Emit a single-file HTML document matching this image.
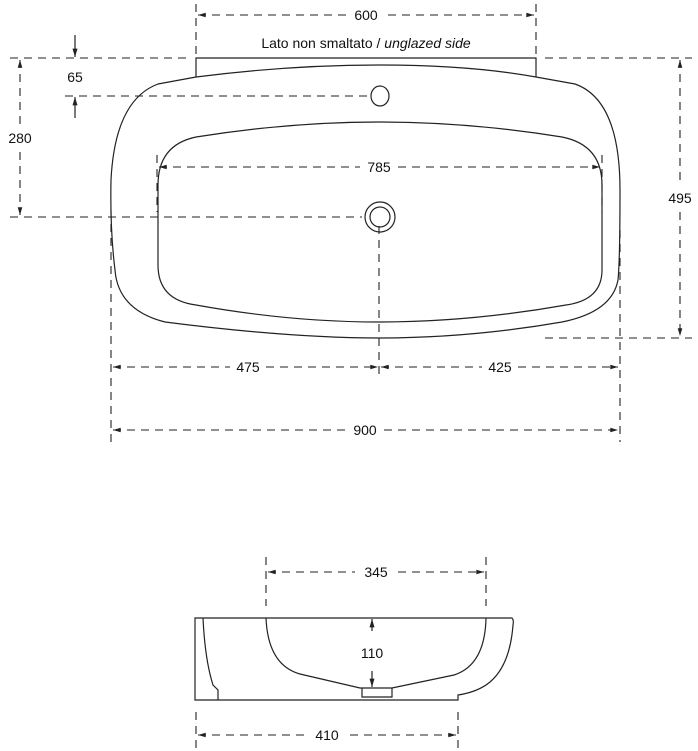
<!DOCTYPE html>
<html><head><meta charset="utf-8"><style>
html,body{margin:0;padding:0;background:#fff;}
svg{display:block;}
text{font-family:"Liberation Sans",Arial,sans-serif;font-size:14px;fill:#111;text-anchor:middle;}
.d{stroke:#222;stroke-width:1.1;stroke-dasharray:8,6;fill:none;}
.s{stroke:#222;stroke-width:1.2;fill:none;}
</style></head><body>
<svg width="698" height="751" viewBox="0 0 698 751" xmlns="http://www.w3.org/2000/svg">
<defs>
<marker id="a" viewBox="0 0 10 10" refX="10" refY="5" markerWidth="9" markerHeight="7" orient="auto-start-reverse"><path d="M0,2 L10,5 L0,8 z" fill="#222"/></marker>
</defs>
<rect x="0" y="0" width="698" height="751" fill="#fff"/>
<line class="d" x1="196" y1="4" x2="196" y2="56"/>
<line class="d" x1="536" y1="4" x2="536" y2="56"/>
<line class="d" x1="198" y1="15" x2="346" y2="15" marker-start="url(#a)"/>
<line class="d" x1="388" y1="15" x2="534" y2="15" marker-end="url(#a)"/>
<text x="366" y="20">600</text>
<text x="366" y="48">Lato non smaltato / <tspan font-style="italic">unglazed side</tspan></text>
<path class="s" d="M196,77 L196,58 L536,58 L536,77"/>
<line class="d" x1="10" y1="58" x2="190" y2="58"/>
<line class="d" x1="545" y1="58" x2="692" y2="58"/>
<path class="s" d="M196,77 Q290,65 379,65 Q470,65 536,77 L575,84 Q620,100 620,190 Q620,260 618,280 Q612,312 562,322 Q470,338 379,338 Q290,338 165,322 Q118,310 115,270 Q110,230 111,180 Q115,100 158,84 Z"/>
<path class="s" d="M196,137 Q290,122 379,122 Q470,122 562,137 Q602,145 602,185 L602,270 Q602,300 566,305 Q470,322 379,322 Q290,322 196,305 Q158,300 158,265 L158,185 Q158,145 196,137 Z"/>
<ellipse class="s" cx="380" cy="96" rx="9" ry="10"/>
<circle class="s" cx="380" cy="217" r="15"/>
<circle class="s" cx="380" cy="217" r="10"/>
<line class="s" x1="75" y1="35" x2="75" y2="57" marker-end="url(#a)"/>
<line class="s" x1="75" y1="118" x2="75" y2="97" marker-end="url(#a)"/>
<text x="75" y="82">65</text>
<line class="d" x1="65" y1="96" x2="370" y2="96"/>
<line class="d" x1="20" y1="60" x2="20" y2="125" marker-start="url(#a)"/>
<line class="d" x1="20" y1="152" x2="20" y2="215" marker-end="url(#a)"/>
<text x="20" y="143">280</text>
<line class="d" x1="10" y1="217" x2="362" y2="217"/>
<line class="d" x1="157" y1="155" x2="157" y2="212"/>
<line class="d" x1="602" y1="155" x2="602" y2="212"/>
<line class="d" x1="159" y1="167" x2="360" y2="167" marker-start="url(#a)"/>
<line class="d" x1="398" y1="167" x2="600" y2="167" marker-end="url(#a)"/>
<text x="379" y="172">785</text>
<line class="d" x1="680" y1="60" x2="680" y2="186" marker-start="url(#a)"/>
<line class="d" x1="680" y1="212" x2="680" y2="336" marker-end="url(#a)"/>
<text x="680" y="203">495</text>
<line class="d" x1="545" y1="338" x2="692" y2="338"/>
<line class="d" x1="111" y1="210" x2="111" y2="442"/>
<line class="d" x1="620" y1="230" x2="620" y2="442"/>
<line class="d" x1="379" y1="226" x2="379" y2="378"/>
<line class="d" x1="113" y1="367" x2="230" y2="367" marker-start="url(#a)"/>
<line class="d" x1="266" y1="367" x2="378" y2="367" marker-end="url(#a)"/>
<text x="248" y="372">475</text>
<line class="d" x1="381" y1="367" x2="482" y2="367" marker-start="url(#a)"/>
<line class="d" x1="518" y1="367" x2="618" y2="367" marker-end="url(#a)"/>
<text x="500" y="372">425</text>
<line class="d" x1="113" y1="430" x2="346" y2="430" marker-start="url(#a)"/>
<line class="d" x1="384" y1="430" x2="618" y2="430" marker-end="url(#a)"/>
<text x="365" y="435">900</text>
<line class="d" x1="266" y1="557" x2="266" y2="606"/>
<line class="d" x1="486" y1="557" x2="486" y2="606"/>
<line class="d" x1="268" y1="572" x2="355" y2="572" marker-start="url(#a)"/>
<line class="d" x1="398" y1="572" x2="484" y2="572" marker-end="url(#a)"/>
<text x="376" y="577">345</text>
<path class="s" d="M195,618 L512,618 Q514,620 513,625 Q510,665 490,682 Q478,692 458,695 L458,700 L195,700 Z"/>
<path class="s" d="M203,618 Q205,660 213,685 L218,690 L218,700"/>
<path class="s" d="M266,618 Q268,665 300,674 L360,688 L392,688 L454,675 Q485,665 486,618"/>
<path class="s" d="M362,688 L362,697 L392,697 L392,688"/>
<line class="s" x1="372" y1="631" x2="372" y2="619" marker-end="url(#a)"/>
<line class="s" x1="372" y1="671" x2="372" y2="687" marker-end="url(#a)"/>
<text x="372" y="658">110</text>
<line class="d" x1="196" y1="712" x2="196" y2="750"/>
<line class="d" x1="458" y1="712" x2="458" y2="750"/>
<line class="d" x1="198" y1="735" x2="305" y2="735" marker-start="url(#a)"/>
<line class="d" x1="350" y1="735" x2="456" y2="735" marker-end="url(#a)"/>
<text x="327" y="740">410</text>
</svg>
</body></html>
